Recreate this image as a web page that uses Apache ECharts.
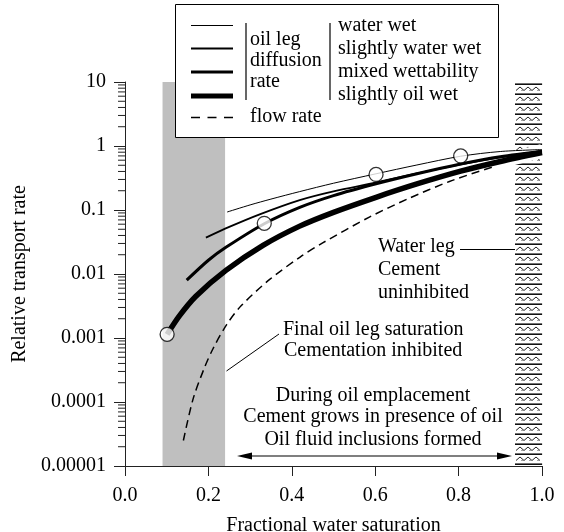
<!DOCTYPE html>
<html>
<head>
<meta charset="utf-8">
<script src="https://cdn.jsdelivr.net/npm/echarts@6/dist/echarts.min.js"></script>
<style>
  html, body { margin: 0; padding: 0; background: #fff; }
  #chart { width: 564px; height: 532px; }
</style>
</head>
<body>
<div id="chart"></div>
<script>
// values (x = fractional water saturation, y = relative rate)
const yTickLabels = ['0.00001', '0.0001', '0.001', '0.01', '0.1', '1', '10'];

const satWaterWet  = [0.245, 0.3, 0.35, 0.419, 0.5, 0.602, 0.7, 0.805, 0.9, 1.0];
const rateWaterWet = [0.093, 0.12, 0.148, 0.194, 0.262, 0.368, 0.505, 0.692, 0.82, 0.88];

const satSlWaterWet  = [0.194, 0.25, 0.323, 0.419, 0.5, 0.602, 0.7, 0.805, 0.9, 1.0];
const rateSlWaterWet = [0.037, 0.0545, 0.0857, 0.143, 0.196, 0.269, 0.373, 0.518, 0.665, 0.838];

const satMixed  = [0.148, 0.2, 0.242, 0.334, 0.419, 0.5, 0.602, 0.7, 0.805, 0.9, 1.0];
const rateMixed = [0.008, 0.0164, 0.0261, 0.061, 0.11, 0.168, 0.257, 0.369, 0.524, 0.681, 0.82];

const satSlOilWet  = [0.101, 0.13, 0.17, 0.242, 0.331, 0.419, 0.5, 0.602, 0.7, 0.805, 0.9, 1.0];
const rateSlOilWet = [0.00114, 0.0022, 0.0045, 0.0114, 0.028, 0.056, 0.092, 0.158, 0.255, 0.404, 0.573, 0.79];

const satFlow  = [0.14, 0.163, 0.19, 0.211, 0.243, 0.279, 0.347, 0.42, 0.474, 0.586, 0.68, 0.778, 0.88];
const rateFlow = [0.000025, 0.00011, 0.000337, 0.00068, 0.00159, 0.00321, 0.00822, 0.0184, 0.0306, 0.0774, 0.151, 0.279, 0.467];

const markerSat  = [0.101, 0.334, 0.602, 0.805];
const markerRate = [0.00114, 0.062, 0.36, 0.70];

const oilLegBand   = [0.09, 0.24];
const waterLegBand = [0.935, 1.0];

const yMin = 0.00001, yMax = 10;
const serif = '"Liberation Serif", "Times New Roman", serif';

const pair = (xs, ys) => xs.map((x, i) => [x, ys[i]]);

// minor log ticks 2..9 in each decade
const minorTicks = [];
for (let e = -5; e < 1; e++) {
  for (let m = 2; m <= 9; m++) minorTicks.push([0, m * Math.pow(10, e)]);
}

// hatch tile for the water leg
const hatch = document.createElement('canvas');
hatch.width = 28; hatch.height = 10;
(function () {
  const c = hatch.getContext('2d');
  c.fillStyle = '#fff'; c.fillRect(0, 0, 28, 10);
  c.strokeStyle = '#111'; c.lineWidth = 1.6;
  c.beginPath(); c.moveTo(0, 1.2); c.lineTo(28, 1.2); c.stroke();
  c.strokeStyle = '#222'; c.lineWidth = 1;
  c.beginPath(); c.moveTo(1, 7.5);
  for (let i = 0; i < 6; i++) c.lineTo(5 + i * 4, i % 2 === 0 ? 4 : 7.5);
  c.stroke();
  c.fillStyle = '#444';
  [7, 15, 23].forEach(x => c.fillRect(x - 0.5, 7, 1, 1));
})();

const chart = echarts.init(document.getElementById('chart'), null, { renderer: 'canvas' });

const txt = (text, x, y, align) => ({
  type: 'text', x, y, z: 100,
  style: { text, font: '20px ' + serif, fill: '#000', align: align || 'left', verticalAlign: 'middle',
           textAlign: align || 'left', textVerticalAlign: 'middle' }
});
const seg = (x1, y1, x2, y2, w, dash) => ({
  type: 'line', z: 100, shape: { x1, y1, x2, y2 },
  style: { stroke: '#000', lineWidth: w, lineDash: dash || null }
});
const tri = (pts) => ({ type: 'polygon', z: 100, shape: { points: pts }, style: { fill: '#000' } });

const curve = (name, data, width, z) => ({
  name, type: 'line', data, smooth: 0.3, symbol: 'none', z,
  lineStyle: { color: '#000', width }
});

chart.setOption({
  animation: false,
  backgroundColor: '#fff',
  grid: { left: 125, right: 22, top: 82, bottom: 66, outerBoundsMode: 'none', containLabel: false },
  xAxis: {
    type: 'value', min: 0, max: 1, interval: 0.2,
    name: 'Fractional water saturation', nameLocation: 'middle', nameGap: 50,
    nameTextStyle: { fontFamily: serif, fontSize: 20, color: '#000' },
    axisLine: { lineStyle: { color: '#222', width: 1 } },
    axisTick: { length: 10, lineStyle: { color: '#222' } },
    axisLabel: { margin: 20, fontFamily: serif, fontSize: 20, color: '#000',
                 formatter: v => v.toFixed(1) },
    splitLine: { show: false }
  },
  yAxis: {
    type: 'log', logBase: 10, min: yMin, max: yMax,
    name: 'Relative transport rate', nameLocation: 'middle', nameGap: 95,
    nameTextStyle: { fontFamily: serif, fontSize: 20, color: '#000' },
    axisLine: { show: true, lineStyle: { color: '#222', width: 1 } },
    axisTick: { show: true, length: 11, lineStyle: { color: '#222' } },
    axisLabel: { margin: 19, fontFamily: serif, fontSize: 20, color: '#000',
                 formatter: v => yTickLabels[Math.round(Math.log10(v)) + 5] },
    splitLine: { show: false }
  },
  series: [
    {
      type: 'custom', silent: true, z: 1, data: [oilLegBand],
      renderItem: (params, api) => {
        const a = api.coord([api.value(0), yMax]);
        const b = api.coord([api.value(1), yMin]);
        return { type: 'rect', shape: { x: a[0], y: a[1], width: b[0] - a[0], height: b[1] - a[1] },
                 style: { fill: '#bfbfbf' } };
      }
    },
    {
      type: 'custom', silent: true, z: 1, data: [waterLegBand],
      renderItem: (params, api) => {
        const a = api.coord([api.value(0), yMax]);
        const b = api.coord([api.value(1), yMin]);
        return { type: 'rect', x: Math.round(a[0]), y: Math.round(a[1]) + 1,
                 shape: { x: 0, y: 0, width: b[0] - a[0], height: b[1] - a[1] - 1 },
                 style: { fill: { image: hatch, repeat: 'repeat' } } };
      }
    },
    {
      type: 'custom', silent: true, clip: false, z: 3, data: minorTicks,
      renderItem: (params, api) => {
        const p = api.coord([0, api.value(1)]);
        return { type: 'line', shape: { x1: p[0] - 7, y1: p[1], x2: p[0], y2: p[1] },
                 style: { stroke: '#222', lineWidth: 1 } };
      }
    },
    {
      // white gap where the curve bundle crosses the water-leg hatch
      type: 'line', data: pair(satSlOilWet.slice(-2), rateSlOilWet.slice(-2)).map((p, i) =>
        [p[0], i === 0 ? p[1] : (rateSlOilWet[rateSlOilWet.length - 1] + rateWaterWet[rateWaterWet.length - 1]) / 2]),
      symbol: 'none', silent: true, z: 2, lineStyle: { color: '#fff', width: 14 }
    },
    {
      name: 'flow rate', type: 'line', data: pair(satFlow, rateFlow), smooth: 0.3,
      symbol: 'none', z: 4, lineStyle: { color: '#000', width: 1.5, type: [8, 5] }
    },
    curve('water wet', pair(satWaterWet, rateWaterWet), 1, 5),
    curve('slightly water wet', pair(satSlWaterWet, rateSlWaterWet), 1.8, 5),
    curve('mixed wettability', pair(satMixed, rateMixed), 3, 5),
    curve('slightly oil wet', pair(satSlOilWet, rateSlOilWet), 5.5, 5),
    {
      type: 'scatter', data: pair(markerSat, markerRate), z: 10,
      symbol: 'circle', symbolSize: 14,
      itemStyle: { color: '#fff', borderColor: '#000', borderWidth: 1.3 }
    }
  ],
  graphic: [
    // legend box
    { type: 'rect', z: 90, shape: { x: 175.5, y: 4.5, width: 323, height: 133 },
      style: { fill: '#fff', stroke: '#000', lineWidth: 1 } },
    seg(191, 25.5, 233, 25.5, 1),
    seg(191, 48.5, 233, 48.5, 1.8),
    seg(191, 72, 233, 72, 3),
    seg(191, 96, 233, 96, 5),
    seg(191, 117.5, 233, 117.5, 1.5, [9, 7.5]),
    seg(246, 23, 246, 100, 1.2),
    seg(330, 23, 330, 100, 1.2),
    txt('oil leg', 250, 40),
    txt('diffusion', 250, 61),
    txt('rate', 250, 82),
    txt('water wet', 338, 26),
    txt('slightly water wet', 338, 49),
    txt('mixed wettability', 338, 72),
    txt('slightly oil wet', 338, 95),
    txt('flow rate', 250, 117),
    // annotations
    txt('Water leg', 378, 247),
    txt('Cement', 378, 270),
    txt('uninhibited', 378, 293),
    seg(460, 249.5, 515, 249.5, 1),
    txt('Final oil leg saturation', 283, 330),
    txt('Cementation inhibited', 284, 351),
    seg(226.5, 371, 279, 334, 1),
    txt('During oil emplacement', 373, 396, 'center'),
    txt('Cement grows in presence of oil', 373, 417, 'center'),
    txt('Oil fluid inclusions formed', 373, 440, 'center'),
    seg(245, 456, 504, 456, 1.2),
    tri([[237, 456], [252, 452.5], [252, 459.5]]),
    tri([[512, 456], [497, 452.5], [497, 459.5]])
  ]
});
</script>
</body>
</html>
